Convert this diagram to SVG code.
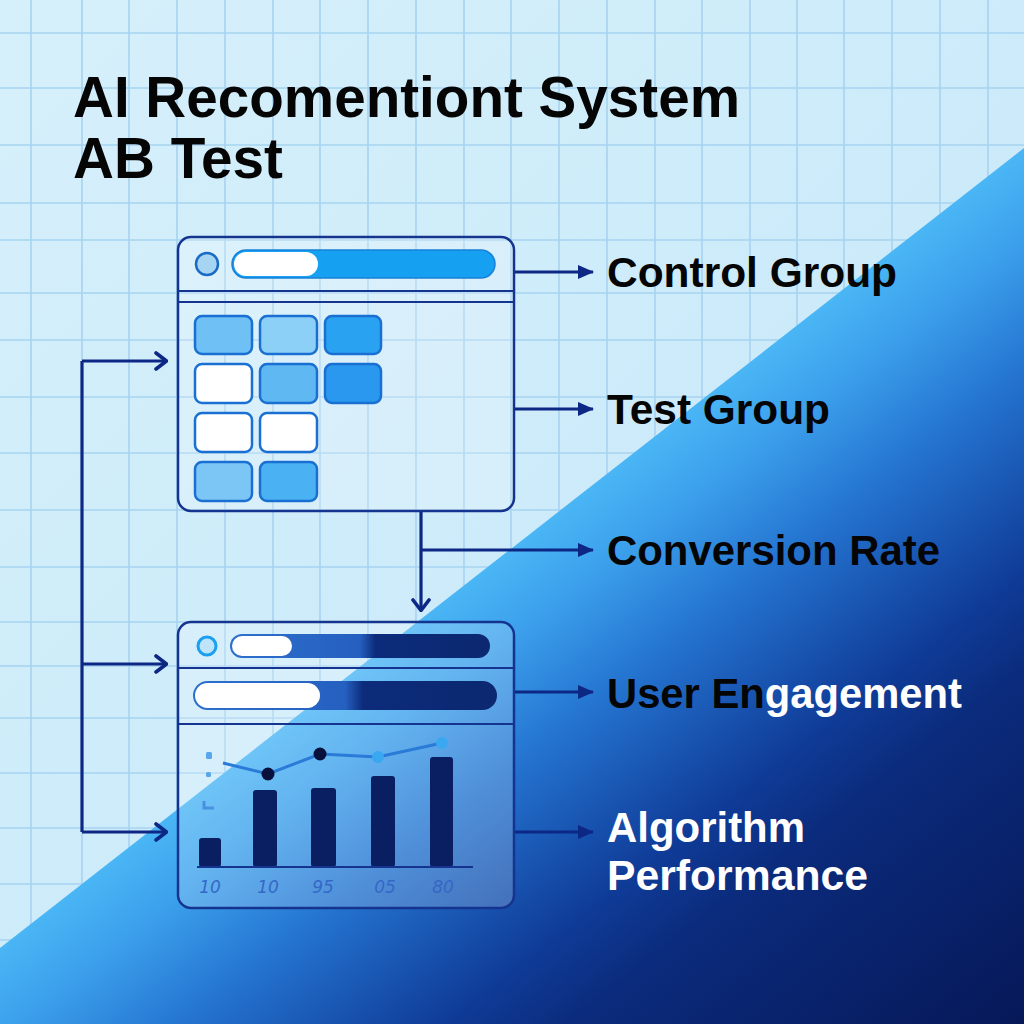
<svg xmlns="http://www.w3.org/2000/svg" width="1024" height="1024" viewBox="0 0 1024 1024">
  <defs>
    <linearGradient id="bgLight" x1="0" y1="0" x2="1" y2="1">
      <stop offset="0" stop-color="#d6f0fb"/>
      <stop offset="1" stop-color="#c4e6f8"/>
    </linearGradient>
    <linearGradient id="bgDark" gradientUnits="userSpaceOnUse" x1="512" y1="548" x2="936" y2="1092">
      <stop offset="0" stop-color="#4ab6f5"/>
      <stop offset="0.1" stop-color="#3ca0ec"/>
      <stop offset="0.25" stop-color="#2474d0"/>
      <stop offset="0.48" stop-color="#0f3c98"/>
      <stop offset="0.6" stop-color="#0b2b7c"/>
      <stop offset="1" stop-color="#061858"/>
    </linearGradient>
    <linearGradient id="barFill" x1="0" y1="0" x2="1" y2="0">
      <stop offset="0" stop-color="#2e6fcc"/>
      <stop offset="0.5" stop-color="#2560c0"/>
      <stop offset="0.56" stop-color="#0c2b7a"/>
      <stop offset="1" stop-color="#0b2870"/>
    </linearGradient>
    <marker id="chev" viewBox="0 0 14 20" refX="13" refY="10" markerWidth="14" markerHeight="20" markerUnits="userSpaceOnUse" orient="auto">
      <path d="M2,2 L12.5,10 L2,18" fill="none" stroke="#0d2785" stroke-width="3.6" stroke-linecap="round" stroke-linejoin="round"/>
    </marker>
    <marker id="tri" viewBox="0 0 16 16" refX="15" refY="8" markerWidth="16" markerHeight="16" markerUnits="userSpaceOnUse" orient="auto">
      <path d="M0,1 L16,8 L0,15 Z" fill="#0d2785"/>
    </marker>
    <style>
      .grid line { stroke: #a6d3f1; stroke-width: 1.6; }
      .conn { fill: none; stroke: #0d2785; stroke-width: 3.2; }
      .panel { fill: #ffffff; fill-opacity: 0.2; stroke: #15348f; stroke-width: 2.5; }
      .div { stroke: #15348f; stroke-width: 2; }
      .tile { stroke: #1a6fd2; stroke-width: 2.5; }
      .title { font-family: "Liberation Sans", Arial, sans-serif; font-weight: bold; font-size: 57px; fill: #050505; }
      .lbl { font-family: "Liberation Sans", Arial, sans-serif; font-weight: bold; font-size: 42px; fill: #050505; }
      .wht { fill: #ffffff; }
      .bar { fill: #0a1e62; }
      .axis { font-family: "DejaVu Sans", sans-serif; font-style: italic; font-size: 17px; fill: #3568c6; }
    </style>
  </defs>

  <!-- background -->
  <rect x="0" y="0" width="1024" height="1024" fill="url(#bgLight)"/>
  <g class="grid">
    <line x1="31" y1="0" x2="31" y2="1024"/>
    <line x1="82" y1="0" x2="82" y2="1024"/>
    <line x1="129" y1="0" x2="129" y2="1024"/>
    <line x1="177" y1="0" x2="177" y2="1024"/>
    <line x1="225" y1="0" x2="225" y2="1024"/>
    <line x1="273" y1="0" x2="273" y2="1024"/>
    <line x1="320" y1="0" x2="320" y2="1024"/>
    <line x1="368" y1="0" x2="368" y2="1024"/>
    <line x1="416" y1="0" x2="416" y2="1024"/>
    <line x1="464" y1="0" x2="464" y2="1024"/>
    <line x1="511" y1="0" x2="511" y2="1024"/>
    <line x1="559" y1="0" x2="559" y2="1024"/>
    <line x1="607" y1="0" x2="607" y2="1024"/>
    <line x1="655" y1="0" x2="655" y2="1024"/>
    <line x1="702" y1="0" x2="702" y2="1024"/>
    <line x1="750" y1="0" x2="750" y2="1024"/>
    <line x1="797" y1="0" x2="797" y2="1024"/>
    <line x1="844" y1="0" x2="844" y2="1024"/>
    <line x1="892" y1="0" x2="892" y2="1024"/>
    <line x1="940" y1="0" x2="940" y2="1024"/>
    <line x1="988" y1="0" x2="988" y2="1024"/>
    <line x1="0" y1="33" x2="1024" y2="33"/>
    <line x1="0" y1="88" x2="1024" y2="88"/>
    <line x1="0" y1="145" x2="1024" y2="145"/>
    <line x1="0" y1="203" x2="1024" y2="203"/>
    <line x1="0" y1="240" x2="1024" y2="240"/>
    <line x1="0" y1="293" x2="1024" y2="293"/>
    <line x1="0" y1="340" x2="1024" y2="340"/>
    <line x1="0" y1="397" x2="1024" y2="397"/>
    <line x1="0" y1="453" x2="1024" y2="453"/>
    <line x1="0" y1="510" x2="1024" y2="510"/>
    <line x1="0" y1="567" x2="1024" y2="567"/>
    <line x1="0" y1="622" x2="1024" y2="622"/>
    <line x1="0" y1="666" x2="1024" y2="666"/>
    <line x1="0" y1="718" x2="1024" y2="718"/>
    <line x1="0" y1="773" x2="1024" y2="773"/>
    <line x1="0" y1="828" x2="1024" y2="828"/>
    <line x1="0" y1="884" x2="1024" y2="884"/>
    <line x1="0" y1="940" x2="1024" y2="940"/>
  </g>
  <polygon points="1024,148 0,948 0,1024 1024,1024" fill="url(#bgDark)"/>

  <!-- title -->
  <g id="title">
    <text class="title" x="73" y="117" textLength="667" lengthAdjust="spacingAndGlyphs">AI Recomentiont System</text>
    <text class="title" x="73" y="178" textLength="210" lengthAdjust="spacingAndGlyphs">AB Test</text>
  </g>

  <!-- connectors -->
  <g id="connectors">
    <path class="conn" d="M82,361 L82,832"/>
    <path class="conn" d="M82,361 L167,361" marker-end="url(#chev)"/>
    <path class="conn" d="M82,664 L167,664" marker-end="url(#chev)"/>
    <path class="conn" d="M82,832 L167,832" marker-end="url(#chev)"/>
    <path class="conn" d="M515,272 L593,272" marker-end="url(#tri)"/>
    <path class="conn" d="M515,409 L593,409" marker-end="url(#tri)"/>
    <path class="conn" d="M421,511 L421,611" marker-end="url(#chev)"/>
    <path class="conn" d="M421,550 L593,550" marker-end="url(#tri)"/>
    <path class="conn" d="M514,692 L593,692" marker-end="url(#tri)"/>
    <path class="conn" d="M514,832 L593,832" marker-end="url(#tri)"/>
  </g>

  <!-- top panel -->
  <g id="panel-a">
    <rect class="panel" x="178" y="237" width="336" height="274" rx="13"/>
    <circle cx="207" cy="264" r="11" fill="#a6d5f2" stroke="#1a6ac8" stroke-width="2.5"/>
    <rect x="232" y="250" width="263" height="28" rx="14" fill="#16a0f2" stroke="#1a80d8" stroke-width="1.5"/>
    <rect x="234" y="252" width="84" height="24" rx="12" fill="#ffffff"/>
    <line class="div" x1="178" y1="291" x2="514" y2="291"/>
    <line class="div" x1="178" y1="302" x2="514" y2="302"/>
    <rect class="tile" x="195" y="316" width="57" height="38" rx="7" fill="#6ec0f5"/>
    <rect class="tile" x="260" y="316" width="57" height="38" rx="7" fill="#8ccff7"/>
    <rect class="tile" x="325" y="316" width="56" height="38" rx="7" fill="#2aa2f2"/>
    <rect class="tile" x="195" y="364" width="57" height="39" rx="7" fill="#ffffff"/>
    <rect class="tile" x="260" y="364" width="57" height="39" rx="7" fill="#60b8f2"/>
    <rect class="tile" x="325" y="364" width="56" height="39" rx="7" fill="#2a98ee"/>
    <rect class="tile" x="195" y="413" width="57" height="39" rx="7" fill="#ffffff"/>
    <rect class="tile" x="260" y="413" width="57" height="39" rx="7" fill="#ffffff"/>
    <rect class="tile" x="195" y="462" width="57" height="39" rx="7" fill="#7cc6f5"/>
    <rect class="tile" x="260" y="462" width="57" height="39" rx="7" fill="#4ab2f2"/>
  </g>

  <!-- bottom panel -->
  <g id="panel-b">
    <rect class="panel" x="178" y="622" width="336" height="286" rx="13" fill-opacity="0.12"/>
    <circle cx="207" cy="646" r="9" fill="#bfe3f8" stroke="#1aa0f0" stroke-width="3"/>
    <rect x="230" y="634" width="260" height="24" rx="12" fill="url(#barFill)"/>
    <rect x="232" y="636" width="60" height="20" rx="10" fill="#ffffff"/>
    <line class="div" x1="178" y1="668" x2="514" y2="668"/>
    <rect x="193" y="681" width="304" height="29" rx="14.5" fill="url(#barFill)"/>
    <rect x="195" y="683" width="125" height="25" rx="12.5" fill="#ffffff"/>
    <line class="div" x1="178" y1="724" x2="514" y2="724"/>
    <rect x="206" y="752" width="6" height="7" rx="1.5" fill="#5aa6ea"/>
    <rect x="206" y="772" width="5" height="5" rx="1.5" fill="#5aa6ea"/>
    <path d="M204,801 L204,808 L214,808" fill="none" stroke="#4a90e0" stroke-width="3"/>
    <rect class="bar" x="199" y="838" width="22" height="29" rx="3"/>
    <rect class="bar" x="253" y="790" width="24" height="77" rx="3"/>
    <rect class="bar" x="311" y="788" width="25" height="79" rx="3"/>
    <rect class="bar" x="371" y="776" width="24" height="91" rx="3"/>
    <rect class="bar" x="430" y="757" width="23" height="110" rx="3"/>
    <line x1="197" y1="867" x2="473" y2="867" stroke="#15348f" stroke-width="2"/>
    <polyline points="223,763 268,774 320,754 378,757 442,743" fill="none" stroke="#2a7ad8" stroke-width="3"/>
    <circle cx="268" cy="774" r="6.5" fill="#08103c"/>
    <circle cx="320" cy="754" r="6.5" fill="#08103c"/>
    <circle cx="378" cy="757" r="6" fill="#3aa8f0"/>
    <circle cx="442" cy="743" r="6" fill="#3aa8f0"/>
    <text class="axis" x="210" y="893" text-anchor="middle">10</text>
    <text class="axis" x="268" y="893" text-anchor="middle">10</text>
    <text class="axis" x="323" y="893" text-anchor="middle">95</text>
    <text class="axis" x="385" y="893" text-anchor="middle">05</text>
    <text class="axis" x="443" y="893" text-anchor="middle">80</text>
  </g>

  <!-- labels -->
  <g id="label-control"><text class="lbl" x="607" y="287" textLength="290" lengthAdjust="spacingAndGlyphs">Control Group</text></g>
  <g id="label-test"><text class="lbl" x="607" y="424" textLength="223" lengthAdjust="spacingAndGlyphs">Test Group</text></g>
  <g id="label-conversion"><text class="lbl" x="607" y="565" textLength="333" lengthAdjust="spacingAndGlyphs">Conversion Rate</text></g>
  <g id="label-engagement"><text class="lbl" x="607" y="708" textLength="355" lengthAdjust="spacingAndGlyphs">User En<tspan class="wht">gagement</tspan></text></g>
  <g id="label-algorithm">
    <text class="lbl wht" x="607" y="842" textLength="198" lengthAdjust="spacingAndGlyphs">Algorithm</text>
    <text class="lbl wht" x="607" y="890" textLength="261" lengthAdjust="spacingAndGlyphs">Performance</text>
  </g>
</svg>
